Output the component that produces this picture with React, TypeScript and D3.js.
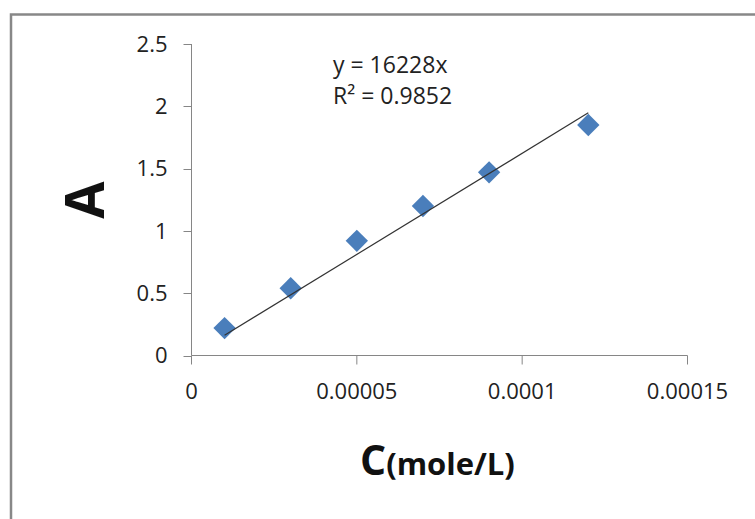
import React from 'react';
import * as d3 from 'd3';

const concentrations = [0.00001, 0.00003, 0.00005, 0.00007, 0.00009, 0.00012];
const absorbances = [0.22, 0.54, 0.92, 1.2, 1.47, 1.85];
const slope = 16228;
const yTicks = [0, 0.5, 1, 1.5, 2, 2.5];
const yTickLabels = ['0', '0.5', '1', '1.5', '2', '2.5'];
const xTicks = [0, 0.00005, 0.0001, 0.00015];
const xTickLabels = ['0', '0.00005', '0.0001', '0.00015'];

const FONT = "'Open Sans', 'Noto Sans', sans-serif";
const AXIS = '#868686';

const App = () => {
  const width = 755;
  const height = 519;

  const x = d3.scaleLinear().domain([0, 0.00015]).range([191.5, 687.5]);
  const y = d3.scaleLinear().domain([0, 2.5]).range([355.5, 44]);

  const diamond = d3.symbol().type(d3.symbolSquare).size(250)();
  const x0 = concentrations[0];
  const x1 = concentrations[concentrations.length - 1];
  const trend = d3.line<number>()
    .x(d => x(d))
    .y(d => y(slope * d))([x0, x1]);

  return (
    <svg width={width} height={height}
      style={{ position: 'absolute', left: 0, top: 0, background: '#fff' }}>
      {/* chart frame, runs off the page on the right and bottom */}
      <rect x={11} y={14.5} width={800} height={600} fill="#fff" stroke="#888" strokeWidth={2.5} />

      {/* y axis */}
      <line x1={x(0)} x2={x(0)} y1={y(2.5)} y2={y(0)} stroke={AXIS} />
      {yTicks.map((t, i) => (
        <g key={'y' + i}>
          <line x1={x(0) - 8} x2={x(0)} y1={Math.round(y(t)) + 0.5} y2={Math.round(y(t)) + 0.5} stroke={AXIS} />
          <text x={x(0) - 24} y={y(t)} dy="0.35em" textAnchor="end"
            fontFamily={FONT} fontSize={22} fill="#222">{yTickLabels[i]}</text>
        </g>
      ))}

      {/* x axis */}
      <line x1={x(0)} x2={x(0.00015)} y1={y(0)} y2={y(0)} stroke={AXIS} />
      {xTicks.map((t, i) => (
        <g key={'x' + i}>
          <line x1={x(t)} x2={x(t)} y1={y(0)} y2={y(0) + 9} stroke={AXIS} />
          <text x={x(t)} y={399} textAnchor="middle"
            fontFamily={FONT} fontSize={22} fill="#222">{xTickLabels[i]}</text>
        </g>
      ))}

      {/* points */}
      {concentrations.map((c, i) => (
        <path key={'p' + i} d={diamond ?? ''}
          transform={`translate(${x(c)},${y(absorbances[i])}) rotate(45)`}
          fill="#4A7EBB" />
      ))}

      {/* linear trendline */}
      <path d={trend ?? ''} fill="none" stroke="#333" strokeWidth={1.2} />

      <text x={333} y={73} fontFamily={FONT} fontSize={23} fill="#222">y = 16228x</text>
      <text x={333} y={104} fontFamily={FONT} fontSize={23} fill="#222">R² = 0.9852</text>

      {/* axis titles */}
      <text transform="translate(85,200) rotate(-90)" textAnchor="middle" dy="0.36em"
        fontFamily={FONT} fontWeight={700} fontSize={54} fill="#111">A</text>
      <text x={360} y={475} fontFamily={FONT} fontWeight={700} fill="#111">
        <tspan fontSize={41}>C</tspan>
        <tspan fontSize={31}>(mole/L)</tspan>
      </text>
    </svg>
  );
};

export default App;
